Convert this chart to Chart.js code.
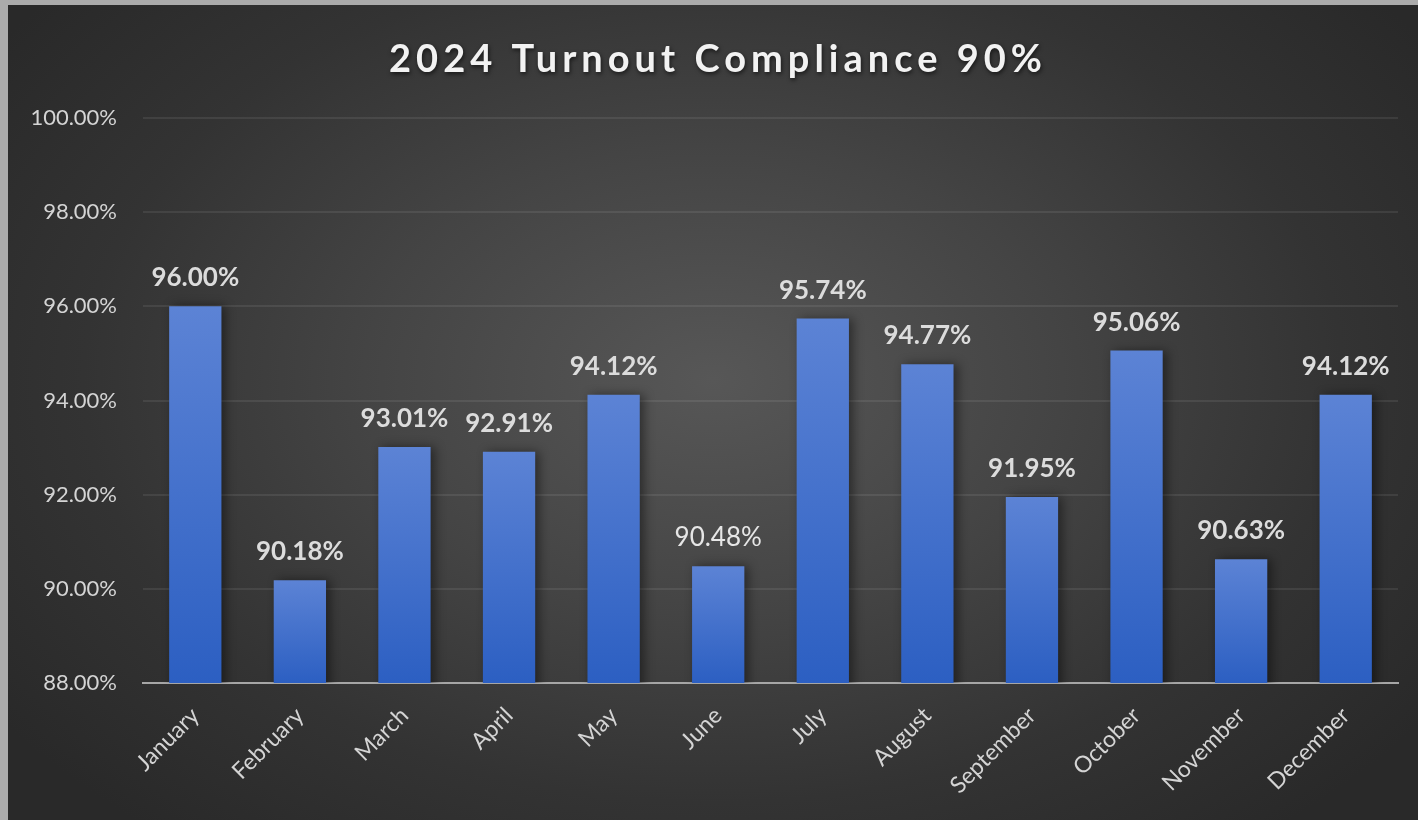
<!DOCTYPE html>
<html>
<head>
<meta charset="utf-8">
<script src="https://cdn.jsdelivr.net/npm/chart.js@4.4.1/dist/chart.umd.min.js"></script>
<style>
  html, body { margin: 0; padding: 0; background: #ababab; width: 1418px; height: 820px; overflow: hidden; }
  #wrap {
    position: absolute; left: 8px; top: 5px; width: 1410px; height: 815px;
    background: radial-gradient(ellipse 62% 72% at 50% 46%, #575757 0%, #444 40%, #333 72%, #292929 100%);
  }
</style>
</head>
<body>
<div id="wrap"><canvas id="chart" width="1410" height="815"></canvas></div>
<script>
const titleText = '2024 Turnout Compliance 90%';
const months = ['January', 'February', 'March', 'April', 'May', 'June', 'July', 'August', 'September', 'October', 'November', 'December'];
const compliance = [96.00, 90.18, 93.01, 92.91, 94.12, 90.48, 95.74, 94.77, 91.95, 95.06, 90.63, 94.12];
const plainLabels = ['June']; // this one label is not bold in the original
const yMin = 88, yMax = 100, yStep = 2;

const FONT = 'Lato, "Open Sans", sans-serif';

// bar gradient, one per bar, from its top down to the axis
function barFill(ctx) {
  const chart = ctx.chart;
  const y = chart.scales.y;
  if (!y || ctx.type !== 'data') return '#3a68c8';
  const top = y.getPixelForValue(ctx.raw);
  const bottom = y.getPixelForValue(yMin);
  if (!isFinite(top) || !isFinite(bottom) || top === bottom) return '#3a68c8';
  const g = chart.ctx.createLinearGradient(0, top, 0, bottom);
  g.addColorStop(0, '#5c83d5');
  g.addColorStop(1, '#2c5fc2');
  return g;
}

// soft shadow under the bars
const barShadow = {
  id: 'barShadow',
  beforeDatasetsDraw(chart) {
    const c = chart.ctx;
    c.save();
    c.shadowColor = 'rgba(0,0,0,0.45)';
    c.shadowBlur = 10;
    c.shadowOffsetX = 4;
    c.shadowOffsetY = 0;
  },
  afterDatasetsDraw(chart) {
    chart.ctx.restore();
  }
};

// value labels above each bar
const valueLabels = {
  id: 'valueLabels',
  afterDatasetsDraw(chart) {
    const c = chart.ctx;
    const meta = chart.getDatasetMeta(0);
    c.save();
    c.textAlign = 'center';
    c.textBaseline = 'alphabetic';
    meta.data.forEach((bar, i) => {
      const plain = plainLabels.includes(months[i]);
      c.font = (plain ? '' : 'bold ') + '26px ' + FONT;
      c.fillStyle = plain ? '#e6e6e6' : '#dcdcdc';
      c.fillText(compliance[i].toFixed(2) + '%', bar.x, bar.y - 20);
    });
    c.restore();
  }
};

// title with letter spacing and a drop shadow
const spacedTitle = {
  id: 'spacedTitle',
  afterDraw(chart) {
    const c = chart.ctx;
    c.save();
    c.font = 'bold 38px ' + FONT;
    c.letterSpacing = '5px';
    c.textAlign = 'center';
    c.textBaseline = 'alphabetic';
    c.shadowColor = 'rgba(0,0,0,0.6)';
    c.shadowBlur = 4;
    c.shadowOffsetX = 1;
    c.shadowOffsetY = 2;
    c.fillStyle = '#f2f2f2';
    c.fillText(titleText, chart.width / 2 + 5, 67);
    c.restore();
  }
};

new Chart(document.getElementById('chart'), {
  type: 'bar',
  data: {
    labels: months,
    datasets: [{
      data: compliance,
      backgroundColor: barFill,
      borderWidth: 0,
      barPercentage: 0.5,
      categoryPercentage: 1.0
    }]
  },
  options: {
    responsive: false,
    animation: false,
    layout: { padding: { top: 113, right: 20, left: 0, bottom: 0 } },
    plugins: {
      legend: { display: false },
      tooltip: { enabled: false },
      title: { display: false }
    },
    scales: {
      x: {
        grid: { display: false, drawTicks: false },
        border: { display: true, color: '#a6a6a6', width: 2 },
        ticks: {
          color: '#d4d4d4',
          font: { family: FONT, size: 23 },
          minRotation: 45,
          maxRotation: 45,
          padding: 19
        },
        afterFit(scale) { scale.height = 137; }
      },
      y: {
        min: yMin,
        max: yMax,
        grid: {
          drawTicks: false,
          color: (ctx) => ctx.tick && ctx.tick.value === yMin ? '#a6a6a6' : 'rgba(255,255,255,0.08)',
          lineWidth: 2
        },
        border: { display: false },
        ticks: {
          stepSize: yStep,
          padding: 26,
          color: '#d4d4d4',
          font: { family: FONT, size: 22 },
          callback: (v) => Number(v).toFixed(2) + '%'
        },
        afterFit(scale) { scale.width = 135; }
      }
    }
  },
  plugins: [barShadow, valueLabels, spacedTitle]
});
</script>
</body>
</html>
